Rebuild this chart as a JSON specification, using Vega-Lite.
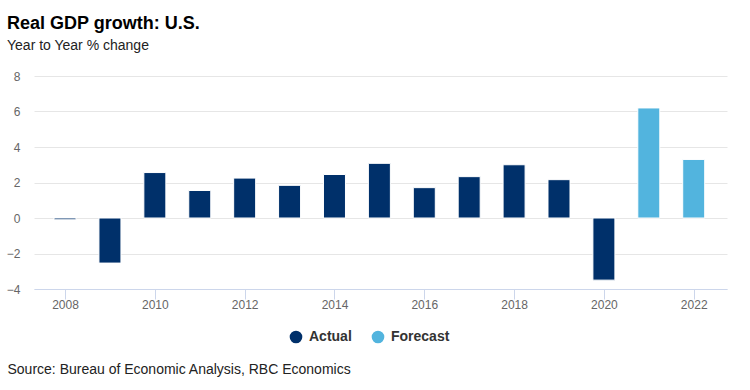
{
  "$schema": "https://vega.github.io/schema/vega-lite/v6.json",
  "autosize": "none",
  "width": 693,
  "height": 213,
  "padding": {"left": 34, "top": 76, "right": 23, "bottom": 101},
  "background": "white",
  "config": {"view": {"stroke": null}, "font": "Liberation Sans"},
  "title": {
    "text": "Real GDP growth: U.S.",
    "subtitle": "Year to Year % change",
    "anchor": "start",
    "frame": "group",
    "dx": -27,
    "offset": 17,
    "font": "Liberation Sans",
    "fontSize": 18,
    "fontWeight": "bold",
    "color": "#000000",
    "subtitleFont": "Liberation Sans",
    "subtitleFontSize": 14,
    "subtitleColor": "#222222",
    "subtitlePadding": 6
  },
  "data": {
    "values": [
      {"year": 2008, "value": -0.1, "type": "Actual"},
      {"year": 2009, "value": -2.54, "type": "Actual"},
      {"year": 2010, "value": 2.56, "type": "Actual"},
      {"year": 2011, "value": 1.55, "type": "Actual"},
      {"year": 2012, "value": 2.25, "type": "Actual"},
      {"year": 2013, "value": 1.84, "type": "Actual"},
      {"year": 2014, "value": 2.45, "type": "Actual"},
      {"year": 2015, "value": 3.08, "type": "Actual"},
      {"year": 2016, "value": 1.71, "type": "Actual"},
      {"year": 2017, "value": 2.33, "type": "Actual"},
      {"year": 2018, "value": 3.0, "type": "Actual"},
      {"year": 2019, "value": 2.16, "type": "Actual"},
      {"year": 2020, "value": -3.5, "type": "Actual"},
      {"year": 2021, "value": 6.2, "type": "Forecast"},
      {"year": 2022, "value": 3.3, "type": "Forecast"}
    ]
  },
  "mark": {"type": "bar", "size": 22, "stroke": "white", "strokeWidth": 1},
  "encoding": {
    "x": {
      "field": "year",
      "type": "quantitative",
      "scale": {"domain": [2007.42, 2022.63], "nice": false, "zero": false},
      "axis": {
        "values": [2008, 2010, 2012, 2014, 2016, 2018, 2020, 2022],
        "format": "d",
        "grid": false,
        "domainColor": "#ccd6eb",
        "tickColor": "#ccd6eb",
        "tickSize": 10,
        "labelColor": "#666666",
        "labelFontSize": 12,
        "labelPadding": 0,
        "title": "Source: Bureau of Economic Analysis, RBC Economics",
        "titleAnchor": "start",
        "titleAlign": "left",
        "titleX": -27,
        "titleY": 84,
        "titleFontSize": 14,
        "titleFontWeight": "normal",
        "titleColor": "#222222",
        "titleBaseline": "alphabetic"
      }
    },
    "y": {
      "field": "value",
      "type": "quantitative",
      "scale": {"domain": [-4, 8], "nice": false},
      "axis": {
        "values": [-4, -2, 0, 2, 4, 6, 8],
        "domain": false,
        "ticks": false,
        "gridColor": "#e6e6e6",
        "labelColor": "#666666",
        "labelFontSize": 12,
        "labelPadding": 14,
        "title": null
      }
    },
    "color": {
      "field": "type",
      "type": "nominal",
      "scale": {"domain": ["Actual", "Forecast"], "range": ["#00306a", "#52b4de"]},
      "legend": {
        "title": null,
        "orient": "none",
        "direction": "horizontal",
        "legendX": 255,
        "legendY": 254,
        "symbolType": "circle",
        "symbolSize": 160,
        "symbolStrokeWidth": 0,
        "labelFontSize": 14,
        "labelFontWeight": "bold",
        "labelColor": "#333333",
        "labelOffset": 6,
        "columnPadding": 19
      }
    }
  }
}
